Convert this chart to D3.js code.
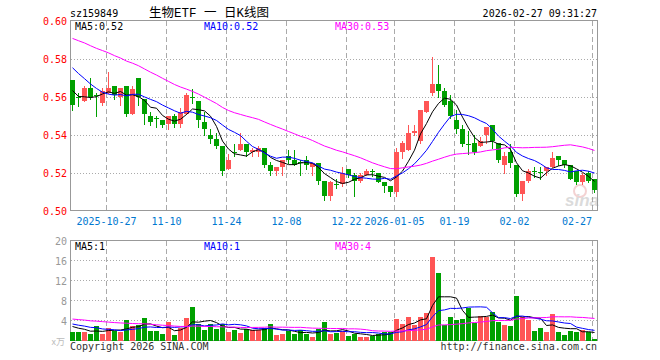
<!DOCTYPE html>
<html><head><meta charset="utf-8">
<script src="https://cdn.jsdelivr.net/npm/d3@7"></script>
<style>body{margin:0;background:#fff}svg{display:block}</style>
</head><body><svg id="c" width="660" height="360"></svg>
<script>
const dates = ["2025-10-17","2025-10-20","2025-10-21","2025-10-22","2025-10-23","2025-10-24",
"2025-10-27","2025-10-28","2025-10-29","2025-10-30","2025-10-31",
"2025-11-03","2025-11-04","2025-11-05","2025-11-06","2025-11-07",
"2025-11-10","2025-11-11","2025-11-12","2025-11-13","2025-11-14",
"2025-11-17","2025-11-18","2025-11-19","2025-11-20","2025-11-21",
"2025-11-24","2025-11-25","2025-11-26","2025-11-27","2025-11-28",
"2025-12-01","2025-12-02","2025-12-03","2025-12-04","2025-12-05",
"2025-12-08","2025-12-09","2025-12-10","2025-12-11","2025-12-12",
"2025-12-15","2025-12-16","2025-12-17","2025-12-18","2025-12-19",
"2025-12-22","2025-12-23","2025-12-24","2025-12-25","2025-12-26",
"2025-12-29","2025-12-30","2025-12-31",
"2026-01-05","2026-01-06","2026-01-07","2026-01-08","2026-01-09",
"2026-01-12","2026-01-13","2026-01-14","2026-01-15","2026-01-16",
"2026-01-19","2026-01-20","2026-01-21","2026-01-22","2026-01-23",
"2026-01-26","2026-01-27","2026-01-28","2026-01-29","2026-01-30",
"2026-02-02","2026-02-03","2026-02-04","2026-02-05","2026-02-06",
"2026-02-09","2026-02-10","2026-02-11","2026-02-12","2026-02-13",
"2026-02-24","2026-02-25","2026-02-26","2026-02-27"];

const open = [0.569,0.560,0.558,0.565,0.561,0.557,0.562,0.566,0.560,0.566,
0.551,0.570,0.559,0.550,0.549,0.548,0.546,0.550,0.546,0.551,
0.560,0.558,0.547,0.540,0.538,0.534,0.522,0.531,0.532,0.535,
0.531,0.531,0.533,0.524,0.521,0.523,0.529,0.527,0.526,0.527,
0.523,0.525,0.516,0.508,0.514,0.514,0.522,0.519,0.516,0.519,
0.521,0.520,0.515,0.513,0.510,0.531,0.532,0.541,0.537,0.552,
0.562,0.567,0.563,0.558,0.548,0.543,0.535,0.536,0.534,0.540,
0.545,0.536,0.524,0.531,0.524,0.509,0.516,0.521,0.5205,0.521,
0.523,0.529,0.527,0.524,0.521,0.515,0.520,0.517];
const high = [0.569,0.562,0.566,0.570,0.562,0.565,0.573,0.566,0.565,0.566,
0.566,0.570,0.559,0.552,0.550,0.548,0.550,0.551,0.554,0.562,
0.564,0.558,0.552,0.543,0.541,0.534,0.530,0.535,0.541,0.535,
0.533,0.534,0.533,0.526,0.523,0.527,0.532,0.532,0.527,0.529,
0.525,0.525,0.516,0.516,0.517,0.523,0.522,0.520,0.520,0.522,
0.522,0.520,0.515,0.513,0.533,0.537,0.545,0.545,0.553,0.558,
0.581,0.577,0.565,0.561,0.553,0.545,0.542,0.540,0.539,0.544,
0.545,0.536,0.531,0.535,0.524,0.516,0.522,0.523,0.523,0.523,
0.531,0.529,0.527,0.524,0.521,0.520,0.521,0.517];
const low = [0.553,0.555,0.558,0.559,0.550,0.556,0.562,0.559,0.556,0.550,
0.551,0.556,0.546,0.545,0.544,0.544,0.543,0.544,0.544,0.551,
0.557,0.544,0.540,0.536,0.533,0.519,0.522,0.529,0.532,0.529,
0.529,0.529,0.523,0.519,0.519,0.519,0.525,0.524,0.519,0.522,
0.519,0.514,0.506,0.506,0.512,0.513,0.518,0.508,0.515,0.519,
0.5185,0.515,0.510,0.508,0.508,0.528,0.532,0.540,0.536,0.552,
0.561,0.560,0.555,0.549,0.541,0.534,0.530,0.530,0.534,0.536,
0.533,0.526,0.520,0.523,0.508,0.506,0.515,0.518,0.517,0.519,
0.523,0.524,0.523,0.517,0.514,0.514,0.515,0.510];
const close = [0.556,0.5595,0.565,0.560,0.5605,0.563,0.565,0.561,0.565,0.551,
0.564,0.560,0.551,0.547,0.5485,0.545,0.550,0.546,0.552,0.561,
0.5595,0.548,0.543,0.538,0.534,0.521,0.527,0.5305,0.535,0.531,
0.532,0.533,0.524,0.521,0.523,0.527,0.527,0.524,0.5255,0.524,
0.525,0.516,0.508,0.515,0.5135,0.520,0.519,0.516,0.519,0.521,
0.5205,0.515,0.513,0.510,0.531,0.536,0.541,0.542,0.553,0.558,
0.567,0.563,0.556,0.550,0.543,0.535,0.5345,0.531,0.537,0.544,
0.537,0.527,0.529,0.525,0.509,0.516,0.521,0.5205,0.520,0.523,
0.528,0.527,0.524,0.517,0.515,0.519,0.516,0.511];
const volume = [1.8,1.8,1.8,1.5,3.1,1.4,2.7,2.0,1.8,4.2,
3.0,3.3,4.6,2.0,2.0,1.4,3.7,1.2,2.7,4.6,
6.9,3.4,2.2,3.4,2.5,3.5,1.9,2.3,1.7,2.4,
2.3,2.3,2.7,3.5,1.3,1.5,2.0,1.4,2.2,1.5,
0.9,2.5,3.7,1.5,1.6,2.1,1.1,1.5,0.9,0.9,
1.1,1.5,1.8,1.8,4.5,3.5,4.9,3.3,4.9,5.6,
16.8,13.6,3.3,4.9,4.3,4.5,6.6,3.6,5.1,4.8,
5.8,3.8,3.3,3.1,9.0,4.8,4.3,2.0,2.6,1.8,
5.4,1.8,1.2,2.1,1.8,2.3,1.9,0.4];
// closes and volumes of the 29 sessions before the window (for the moving averages)
const prevClose = [0.596,0.600,0.604,0.602,0.598,0.601,0.605,0.603,0.599,0.597,
0.600,0.602,0.598,0.594,0.596,0.599,0.595,0.592,0.594,0.596,
0.590,0.592,0.588,0.584,0.583,0.575,0.566,0.562,0.558];
const prevVolume = [5.2,4.6,6.1,5.0,4.3,5.5,4.8,4.1,5.7,4.9,
4.4,5.3,4.7,5.0,4.2,5.6,4.5,4.8,4.6,4.5,
4.2,3.6,4.0,3.8,3.9,3.5,2.9,3.4,2.9];

const priceTicks = [0.50,0.52,0.54,0.56,0.58,0.60];
const volTicks = [4,8,12,16,20];
const dateTicks = ["2025-10-27","2025-11-10","2025-11-24","2025-12-08","2025-12-22","2026-01-05","2026-01-19","2026-02-02","2026-02-27"];
const dateTickLabels = ["2025-10-27","11-10","11-24","12-08","12-22","2026-01-05","01-19","02-02","02-27"];
const maPeriods = [5,10,30];
const priceLegend = ["0.52","0.52","0.53"];
const volLegend = ["1","1","4"];
const titleText = "生物ETF 一 日K线图";
const codeText = "sz159849";
const timeText = "2026-02-27 09:31:27";

const svg = d3.select("#c");
const RED = "#ff5555", GREEN = "#00a000", GRID = "#aaaaaa", FRAME = "#999999";
const maColors = ["#000000","#0000ff","#ff00ff"];
const mono = "'DejaVu Sans Mono', monospace";
const n = dates.length;

const x = d3.scaleLinear().domain([0, n]).range([70, 70 + 6 * n]);
const py = d3.scaleLinear().domain([0.50, 0.60]).range([211, 21]);
const vy = d3.scaleLinear().domain([0, 20]).range([341, 241]);

function ma(arr, prev, p) {
  const full = prev.concat(arr);
  const off = prev.length;
  return arr.map((_, i) => d3.mean(full.slice(off + i - p + 1, off + i + 1)));
}

// ---- text header
svg.append("text").attr("x", 70).attr("y", 16.5).attr("font-family", mono).attr("font-size", 10).attr("fill", "#000").text(codeText);
svg.append("text").attr("x", 209).attr("y", 17).attr("text-anchor", "middle").attr("font-family", "'Liberation Mono', 'Noto Sans CJK SC', monospace").attr("font-size", 12.5).attr("fill", "#000").attr("xml:space", "preserve").style("white-space", "pre").text(titleText);
svg.append("text").attr("x", 597).attr("y", 16.5).attr("text-anchor", "end").attr("font-family", mono).attr("font-size", 10).attr("fill", "#000").text(timeText);

// ---- grids
const dateIdx = dateTicks.map(d => dates.indexOf(d));
function vgrid(y0, y1) {
  svg.append("g").selectAll("line").data(dateIdx).join("line")
    .attr("x1", d => x(d) + 0.5).attr("x2", d => x(d) + 0.5)
    .attr("y1", y0).attr("y2", y1)
    .attr("stroke", GRID).attr("stroke-dasharray", "5,3");
}
vgrid(21, 211); vgrid(241, 341);
svg.append("g").selectAll("line").data(priceTicks.slice(1, -1)).join("line")
  .attr("x1", 71).attr("x2", 597).attr("y1", d => Math.round(py(d)) + 0.5).attr("y2", d => Math.round(py(d)) + 0.5)
  .attr("stroke", GRID).attr("stroke-dasharray", "1,2");
svg.append("g").selectAll("line").data(volTicks.slice(0, -1)).join("line")
  .attr("x1", 71).attr("x2", 597).attr("y1", d => Math.round(vy(d)) - 0.5).attr("y2", d => Math.round(vy(d)) - 0.5)
  .attr("stroke", GRID).attr("stroke-dasharray", "1,2");

// frames
svg.append("rect").attr("x", 70.5).attr("y", 20.5).attr("width", 527).attr("height", 190).attr("fill", "none").attr("stroke", FRAME);
svg.append("rect").attr("x", 70.5).attr("y", 240.5).attr("width", 527).attr("height", 100).attr("fill", "none").attr("stroke", FRAME);

// axis labels
svg.append("g").selectAll("text").data(priceTicks).join("text")
  .attr("x", 67).attr("y", d => py(d) + 0.5).attr("dy", "0.35em").attr("text-anchor", "end")
  .attr("font-family", mono).attr("font-size", 10).attr("fill", "#ff0000").text(d => d.toFixed(2));
svg.append("g").selectAll("text").data(volTicks).join("text")
  .attr("x", 67).attr("y", d => vy(d)).attr("dy", "0.35em").attr("text-anchor", "end")
  .attr("font-family", mono).attr("font-size", 10).attr("fill", "#999").text(d => d);
svg.append("text").attr("x", 65).attr("y", 345).attr("text-anchor", "end").attr("font-family", "'Noto Sans CJK SC', sans-serif").attr("font-size", 9).attr("fill", "#bbb").text("x万");
svg.append("g").selectAll("text").data(dateIdx).join("text")
  .attr("x", (d, i) => i === dateIdx.length - 1 ? x(d) : x(d) + 0.5)
  .attr("y", 225).attr("text-anchor", (d, i) => i === dateIdx.length - 1 ? "end" : "middle")
  .attr("font-family", mono).attr("font-size", 10).attr("fill", "#0078d0").text((d, i) => dateTickLabels[i]);

// watermark
const wm = svg.append("g").attr("opacity", 0.35);
wm.append("circle").attr("cx", 580).attr("cy", 191).attr("r", 6).attr("fill", "none").attr("stroke", "#e08080").attr("stroke-width", 2);
wm.append("text").attr("x", 565).attr("y", 206).attr("font-family", "Arial, 'Liberation Sans'").attr("font-style", "italic").attr("font-weight", "bold").attr("font-size", 17).attr("fill", "#999").text("sina");

// ---- candles
const idx = d3.range(n);
const col = i => close[i] > open[i] ? RED : (close[i] < open[i] ? GREEN : RED);
const cg = svg.append("g");
cg.selectAll("line").data(idx).join("line")
  .attr("x1", i => x(i) + 2.5).attr("x2", i => x(i) + 2.5)
  .attr("y1", i => Math.round(py(high[i]))).attr("y2", i => Math.round(py(low[i])) + 1)
  .attr("stroke", col);
cg.selectAll("rect").data(idx).join("rect")
  .attr("x", i => x(i)).attr("width", 5)
  .attr("y", i => Math.round(py(Math.max(open[i], close[i]))))
  .attr("height", i => Math.max(1, Math.round(py(Math.min(open[i], close[i]))) - Math.round(py(Math.max(open[i], close[i])))))
  .attr("fill", col);

// ---- volume bars
svg.append("g").selectAll("rect").data(idx).join("rect")
  .attr("x", i => x(i)).attr("width", 5)
  .attr("y", i => Math.round(vy(volume[i]))).attr("height", i => 341 - Math.round(vy(volume[i])))
  .attr("fill", col);

// ---- moving averages
svg.append("clipPath").attr("id", "cp1").append("rect").attr("x", 71).attr("y", 21).attr("width", 526).attr("height", 190);
svg.append("clipPath").attr("id", "cp2").append("rect").attr("x", 71).attr("y", 241).attr("width", 526).attr("height", 100);
maPeriods.forEach((p, k) => {
  const m = ma(close, prevClose, p);
  svg.append("path").attr("clip-path", "url(#cp1)")
    .attr("d", d3.line().x((d, i) => x(i) + 2.5).y(d => py(d))(m))
    .attr("fill", "none").attr("stroke", maColors[k]).attr("stroke-width", 1);
  const mv = ma(volume, prevVolume, p);
  svg.append("path").attr("clip-path", "url(#cp2)")
    .attr("d", d3.line().x((d, i) => x(i) + 2.5).y(d => vy(d))(mv))
    .attr("fill", "none").attr("stroke", maColors[k]).attr("stroke-width", 1);
});

// legends
const legX = [75, 204, 335];
maPeriods.forEach((p, k) => {
  svg.append("text").attr("x", legX[k]).attr("y", 29.5).attr("font-family", mono).attr("font-size", 10).attr("fill", maColors[k]).text("MA" + p + ":" + priceLegend[k]);
  svg.append("text").attr("x", legX[k]).attr("y", 250).attr("font-family", mono).attr("font-size", 10).attr("fill", maColors[k]).text("MA" + p + ":" + volLegend[k]);
});

// footer
svg.append("text").attr("x", 70).attr("y", 350).attr("font-family", mono).attr("font-size", 10).attr("fill", "#333").text("Copyright 2026 SINA.COM");
svg.append("text").attr("x", 597).attr("y", 350).attr("text-anchor", "end").attr("font-family", mono).attr("font-size", 10).attr("fill", "#333").text("http://finance.sina.com.cn");
</script>
</body></html>
